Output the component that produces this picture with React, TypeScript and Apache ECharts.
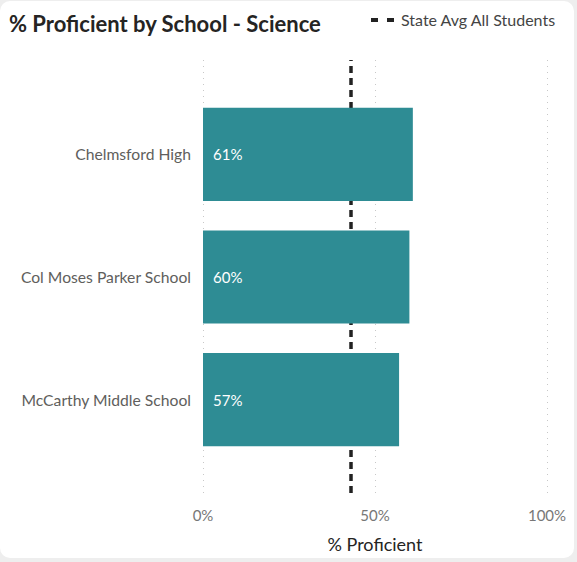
import React, { useEffect, useRef } from "react";
import * as echarts from "echarts";

const schools = ["Chelmsford High", "Col Moses Parker School", "McCarthy Middle School"];
const proficient = [61, 60, 57];
const stateAvg = 43;
const xTicks = [0, 50, 100];

const FONT = "Lato, 'Open Sans', sans-serif";

export default function App() {
  const ref = useRef<HTMLDivElement>(null);
  useEffect(() => {
    document.body.style.margin = "0";
    const chart = echarts.init(ref.current!, null, { renderer: "svg" });
    chart.setOption({
      animation: false,
      textStyle: { fontFamily: FONT },
      title: {
        text: "% Proficient by School - Science",
        left: 4,
        top: 6,
        textStyle: { fontSize: 22, fontWeight: "bold", color: "#252423", fontFamily: FONT },
      },
      grid: [
        { left: 203, right: 27, top: 59, bottom: 57 },
        { left: 203, right: 27, top: 92, bottom: 97 },
      ],
      xAxis: [
        {
          gridIndex: 0,
          type: "value",
          min: xTicks[0],
          max: xTicks[xTicks.length - 1],
          interval: 50,
          axisLine: { show: false },
          axisTick: { show: false },
          axisLabel: { formatter: "{value}%", fontSize: 15, color: "#777", margin: 14, fontFamily: FONT },
          splitLine: { show: true, lineStyle: { type: [1, 5], color: "#c8c8c8", width: 1 } },
          name: "% Proficient",
          nameLocation: "middle",
          nameGap: 42,
          nameTextStyle: { fontSize: 18, color: "#252423", fontFamily: FONT },
        },
        { gridIndex: 1, type: "value", min: 0, max: 100, show: false },
      ],
      yAxis: [
        { gridIndex: 0, type: "category", data: ["x"], show: false },
        {
          gridIndex: 1,
          type: "category",
          inverse: true,
          data: schools,
          axisLine: { show: false },
          axisTick: { show: false },
          axisLabel: { fontSize: 15.7, color: "#605e5c", margin: 12, fontFamily: FONT },
        },
      ],
      graphic: [
        {
          type: "line",
          shape: { x1: 371, y1: 19, x2: 395, y2: 19 },
          style: { stroke: "#222", lineWidth: 4, lineDash: [7, 9] },
        },
        {
          type: "text",
          left: 401,
          top: 10,
          style: { text: "State Avg All Students", fontSize: 16, fill: "#444", fontFamily: FONT },
        },
      ],
      series: [
        {
          name: "State Avg All Students",
          type: "line",
          xAxisIndex: 0,
          yAxisIndex: 0,
          data: [],
          symbol: "none",
          z: 1,
          markLine: {
            silent: true,
            symbol: "none",
            label: { show: false },
            lineStyle: { type: [7, 5], color: "#222", width: 3.5 },
            data: [{ xAxis: stateAvg }],
          },
        },
        {
          name: "% Proficient",
          type: "bar",
          xAxisIndex: 1,
          yAxisIndex: 1,
          data: proficient,
          barCategoryGap: "24%",
          z: 5,
          itemStyle: { color: "#2e8c94" },
          label: {
            show: true,
            position: "insideLeft",
            distance: 10,
            formatter: "{c}%",
            color: "#ffffff",
            fontSize: 15,
            fontFamily: FONT,
          },
        },
      ],
    });
    return () => chart.dispose();
  }, []);

  return (
    <div style={{ width: 577, height: 562, background: "#eeeeee", position: "relative", overflow: "hidden" }}>
      <div
        style={{
          position: "absolute",
          left: 0,
          top: 1,
          width: 574,
          height: 557,
          background: "#ffffff",
          borderRadius: 10,
          overflow: "hidden",
        }}
      >
        <div ref={ref} style={{ width: 574, height: 557 }} />
      </div>
    </div>
  );
}
